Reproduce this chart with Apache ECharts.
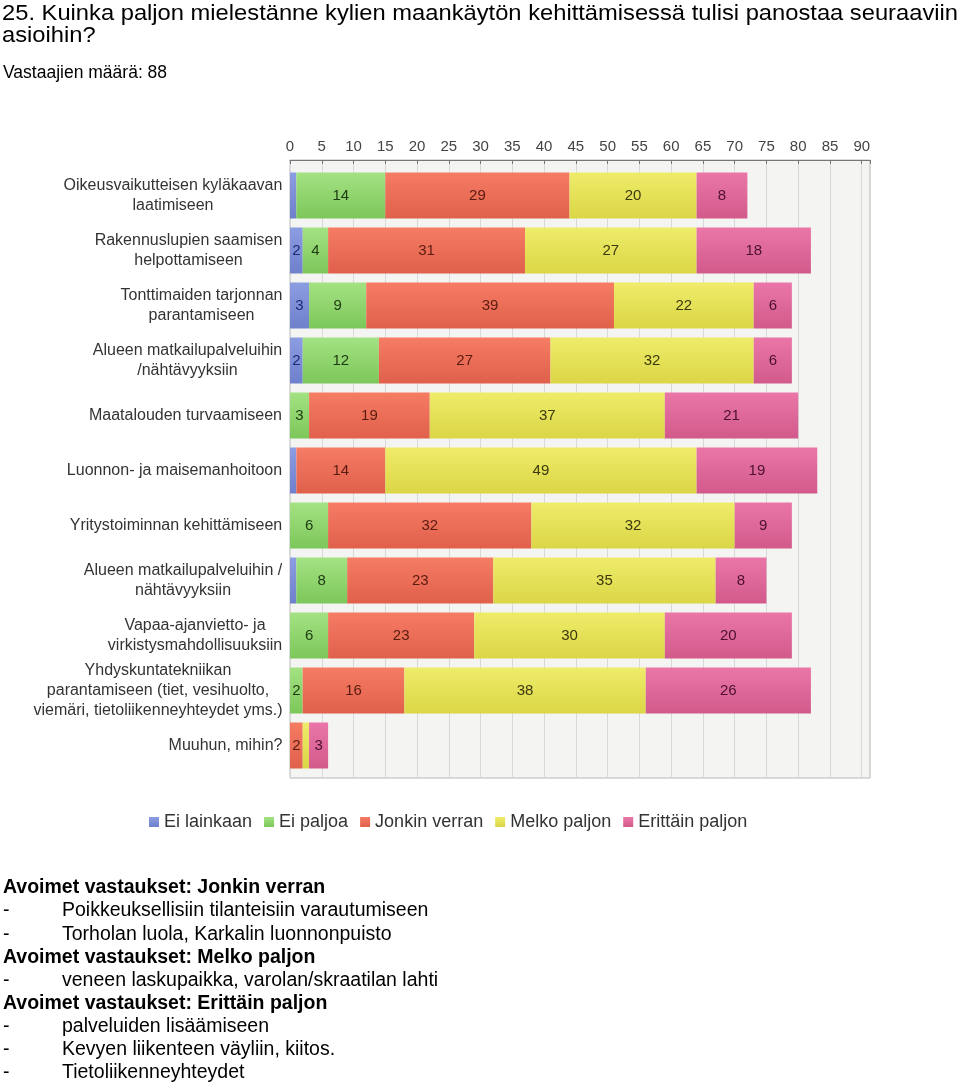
<!DOCTYPE html>
<html>
<head>
<meta charset="utf-8">
<script src="https://cdn.jsdelivr.net/npm/echarts@6/dist/echarts.min.js"></script>
<style>
html,body{margin:0;padding:0;background:#fff;}
#c{width:960px;height:1085px;}
</style>
</head>
<body>
<div id="c"></div>
<script>
var categories = [
  "Oikeusvaikutteisen kyläkaavan\nlaatimiseen",
  "Rakennuslupien saamisen\nhelpottamiseen",
  "Tonttimaiden tarjonnan\nparantamiseen",
  "Alueen matkailupalveluihin\n/nähtävyyksiin",
  "Maatalouden turvaamiseen",
  "Luonnon- ja maisemanhoitoon",
  "Yritystoiminnan kehittämiseen",
  "Alueen matkailupalveluihin /\nnähtävyyksiin",
  "Vapaa-ajanvietto- ja\nvirkistysmahdollisuuksiin",
  "Yhdyskuntatekniikan\nparantamiseen (tiet, vesihuolto,\nviemäri, tietoliikenneyhteydet yms.)",
  "Muuhun, mihin?"
];
var seriesNames = ["Ei lainkaan", "Ei paljoa", "Jonkin verran", "Melko paljon", "Erittäin paljon"];
var eiLainkaan = [1, 2, 3, 2, 0, 1, 0, 1, 0, 0, 0];
var eiPaljoa   = [14, 4, 9, 12, 3, 0, 6, 8, 6, 2, 0];
var jonkinVerran = [29, 31, 39, 27, 19, 14, 32, 23, 23, 16, 2];
var melkoPaljon  = [20, 27, 22, 32, 37, 49, 32, 35, 30, 38, 1];
var erittainPaljon = [8, 18, 6, 6, 21, 19, 9, 8, 20, 26, 3];
var xTicks = [0,5,10,15,20,25,30,35,40,45,50,55,60,65,70,75,80,85,90];

var titleLines = ["25. Kuinka paljon mielestänne kylien maankäytön kehittämisessä tulisi panostaa seuraaviin", "asioihin?"];
var subtitle = "Vastaajien määrä: 88";
var openAnswers = [
  {bold: true, text: "Avoimet vastaukset: Jonkin verran"},
  {bold: false, text: "Poikkeuksellisiin tilanteisiin varautumiseen"},
  {bold: false, text: "Torholan luola, Karkalin luonnonpuisto"},
  {bold: true, text: "Avoimet vastaukset: Melko paljon"},
  {bold: false, text: "veneen laskupaikka, varolan/skraatilan lahti"},
  {bold: true, text: "Avoimet vastaukset: Erittäin paljon"},
  {bold: false, text: "palveluiden lisäämiseen"},
  {bold: false, text: "Kevyen liikenteen väyliin, kiitos."},
  {bold: false, text: "Tietoliikenneyhteydet"}
];

var FONT = "Arial, 'Liberation Sans', sans-serif";
var colorsTop = ["#8c9de2", "#a4e283", "#f67c64", "#eeec6a", "#ea76a8"];
var colorsBot = ["#6f80cc", "#7cc75a", "#e0604b", "#dbd646", "#d25a8b"];
var solid = ["#7d8ed8", "#8fd56e", "#ec6d57", "#e5e158", "#de6799"];
var labelCol = ["#1c2a78", "#1e3a12", "#5a1c10", "#3c3a0c", "#4c1030"];

var cv = document.createElement('canvas').getContext('2d');
cv.font = "16px " + FONT;
var rich = {};
categories.forEach(function (c, i) {
  var w = 0;
  c.split("\n").forEach(function (l) { w = Math.max(w, cv.measureText(l).width); });
  rich['r' + i] = {width: Math.ceil(w) + 1, align: 'center', fontSize: 16, lineHeight: 20, color: '#333', fontFamily: FONT};
});

var chart = echarts.init(document.getElementById('c'), null, {renderer: 'canvas'});
var vals = [eiLainkaan, eiPaljoa, jonkinVerran, melkoPaljon, erittainPaljon];
var series = vals.map(function (d, k) {
  return {
    name: seriesNames[k], type: 'bar', stack: 'all', xAxisIndex: 1, yAxisIndex: 1,
    barWidth: 46, data: d,
    itemStyle: {color: new echarts.graphic.LinearGradient(0, 0, 0, 1, [
      {offset: 0, color: colorsTop[k]}, {offset: 1, color: colorsBot[k]}])},
    label: {show: true, position: 'inside', fontSize: 15, fontFamily: FONT, color: labelCol[k],
      formatter: function (p) { return p.value >= 2 ? String(p.value) : ''; }},
    emphasis: {disabled: true}
  };
});

cv.font = "22px " + FONT;
var tW = cv.measureText(titleLines[0]).width;
var tScale = Math.min(1.15, 956 / tW);

var graphics = [];
titleLines.forEach(function (t, i) {
  graphics.push({type: 'text', x: 2, y: 3 + i * 22, scaleX: tScale, style: {text: t, font: "22px " + FONT, fill: '#000'}});
});
graphics.push({type: 'text', left: 3, top: 64, style: {text: subtitle, font: "17.5px " + FONT, fill: '#000'}});
openAnswers.forEach(function (a, i) {
  var y = 878 + i * 23.1;
  if (a.bold) {
    graphics.push({type: 'text', left: 3, top: y, style: {text: a.text, font: "bold 19.5px " + FONT, fill: '#000'}});
  } else {
    graphics.push({type: 'text', left: 3, top: y, style: {text: '-', font: "19.5px " + FONT, fill: '#000'}});
    graphics.push({type: 'text', left: 62, top: y, style: {text: a.text, font: "19.5px " + FONT, fill: '#000'}});
  }
});

chart.setOption({
  animation: false,
  color: solid,
  textStyle: {fontFamily: FONT},
  grid: [
    {left: 290, top: 160, width: 580, height: 618, show: true, backgroundColor: '#f4f5f2', borderColor: '#b8b8b8', borderWidth: 1},
    {left: 290, top: 168, width: 580, height: 605}
  ],
  xAxis: [
    {gridIndex: 0, type: 'value', position: 'top', min: 0, max: 91.3, interval: 5,
      axisLine: {show: true, lineStyle: {color: '#777', width: 1}},
      axisTick: {show: true, inside: true, length: 4, lineStyle: {color: '#777'}},
      axisLabel: {show: true, margin: 6, fontSize: 15, color: '#444', fontFamily: FONT,
        formatter: function (v) { return (xTicks.indexOf(v) >= 0) ? String(v) : ''; }},
      splitLine: {show: true, lineStyle: {color: '#d8d8d8', width: 1}}},
    {gridIndex: 1, type: 'value', min: 0, max: 91.3, show: false}
  ],
  yAxis: [
    {gridIndex: 0, type: 'category', data: categories, show: false},
    {gridIndex: 1, type: 'category', data: categories, inverse: true,
      axisLine: {show: false}, axisTick: {show: false},
      axisLabel: {margin: 7, formatter: function (v, i) {
        return v.split("\n").map(function (l) { return '{r' + i + '|' + l + '}'; }).join("\n");
      }, rich: rich}}
  ],
  legend: {
    data: seriesNames, top: 808, left: 144, icon: 'rect', itemWidth: 10, itemHeight: 10, itemGap: 12,
    textStyle: {fontSize: 18, color: '#333', fontFamily: FONT},
    selectedMode: false
  },
  series: series,
  graphic: graphics
});
</script>
</body>
</html>
